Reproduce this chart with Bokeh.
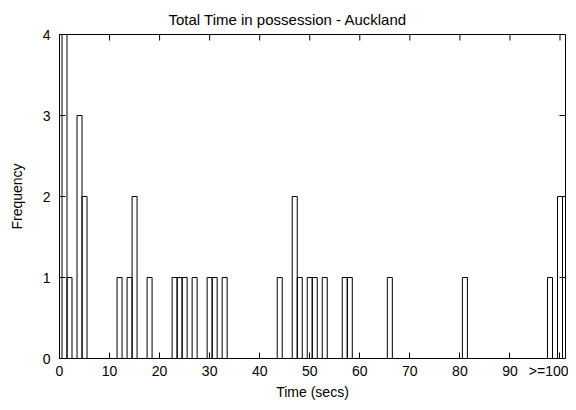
import math
from bokeh.plotting import figure
from bokeh.models import FixedTicker, Range1d
from bokeh.embed import file_html
from bokeh.resources import INLINE

# Histogram data (seconds bin -> frequency); 100 means ">=100"
bins = [1, 2, 4, 5, 12, 14, 15, 18, 23, 24, 25, 27, 30, 31, 33,
        44, 47, 48, 50, 51, 53, 57, 58, 66, 81, 98, 100]
counts = [4, 1, 3, 2, 1, 1, 2, 1, 1, 1, 1, 1, 1, 1, 1,
          1, 2, 1, 1, 1, 1, 1, 1, 1, 1, 1, 2]
x_ticks = [0, 10, 20, 30, 40, 50, 60, 70, 80, 90, 100]
x_tick_labels = ["0", "10", "20", "30", "40", "50", "60", "70", "80", "90", ">=100"]
y_ticks = [0, 1, 2, 3, 4]

FONT = "Liberation Sans"
X_END = 101.1
Y_END = 4

p = figure(width=568, height=402, output_backend="svg", toolbar_location=None,
           x_range=Range1d(0, X_END), y_range=Range1d(0, Y_END),
           title="Total Time in possession - Auckland",
           min_border_left=59, min_border_right=3, min_border_top=34, min_border_bottom=44)

p.quad(left=[b - 0.5 for b in bins], right=[b + 0.5 for b in bins],
       top=counts, bottom=0, fill_color=None, line_color="black", line_width=1)

# mirror ticks (inward) on top and right edges; half of each marker is clipped by the frame
p.scatter(x=x_ticks, y=[Y_END] * len(x_ticks), marker="dash", size=12,
          angle=math.pi / 2, line_color="black", line_width=1)
p.scatter(x=[X_END] * len(y_ticks), y=y_ticks, marker="dash", size=12,
          line_color="black", line_width=1)

p.title.align = "left"
p.title.text_font = FONT
p.title.text_font_size = "15px"
p.title.text_font_style = "normal"
p.title.text_color = "black"
p.title.standoff = 14
p.title.offset = 109

p.xgrid.visible = False
p.ygrid.visible = False
p.outline_line_color = "black"
p.outline_line_width = 1
p.background_fill_color = "white"
p.border_fill_color = "white"

xa = p.xaxis[0]
xa.ticker = FixedTicker(ticks=x_ticks)
xa.major_label_overrides = {t: l for t, l in zip(x_ticks, x_tick_labels)}
xa.axis_label = "Time (secs)"
ya = p.yaxis[0]
ya.ticker = FixedTicker(ticks=y_ticks)
ya.axis_label = "Frequency"

for ax in (xa, ya):
    ax.major_tick_in = 6
    ax.major_tick_out = 0
    ax.minor_tick_line_color = None
    ax.axis_line_color = "black"
    ax.major_tick_line_color = "black"
    ax.major_label_text_font = FONT
    ax.major_label_text_font_size = "14px"
    ax.major_label_text_color = "black"
    ax.axis_label_text_font = FONT
    ax.axis_label_text_font_size = "14px"
    ax.axis_label_text_font_style = "normal"
    ax.axis_label_text_color = "black"

xa.major_label_standoff = 4
xa.axis_label_standoff = 2
ya.major_label_standoff = 9
ya.axis_label_standoff = 15

open("out.html", "w").write(file_html(p, INLINE))
